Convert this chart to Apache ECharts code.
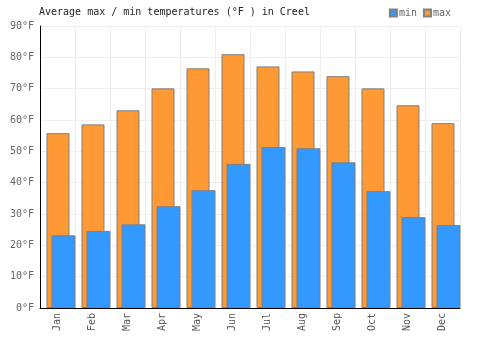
<!DOCTYPE html>
<html>
<head>
<meta charset="utf-8">
<script src="https://cdn.jsdelivr.net/npm/echarts@6/dist/echarts.min.js"></script>
<style>
  html, body { margin: 0; padding: 0; background: #fff; }
  #chart { width: 500px; height: 350px; }
</style>
</head>
<body>
<div id="chart"></div>
<script>
const months = ['Jan', 'Feb', 'Mar', 'Apr', 'May', 'Jun', 'Jul', 'Aug', 'Sep', 'Oct', 'Nov', 'Dec'];
const maxTemps = [55.8, 58.6, 63.1, 70.1, 76.5, 81.0, 77.1, 75.5, 74.0, 70.1, 64.7, 59.0];
const minTemps = [23.2, 24.6, 26.7, 32.5, 37.6, 46.0, 51.4, 51.0, 46.5, 37.3, 29.0, 26.5];

const mono = 'DejaVu Sans Mono';
const chart = echarts.init(document.getElementById('chart'));

const option = {
  animation: false,
  title: {
    text: 'Average max / min temperatures (°F ) in Creel',
    left: 34,
    top: 2,
    textStyle: { fontFamily: mono, fontSize: 10, fontWeight: 'normal', color: '#222' }
  },
  legend: {
    data: ['min', 'max'],
    right: 44,
    top: 3,
    itemWidth: 7,
    itemHeight: 7,
    itemGap: 6,
    icon: 'rect',
    textStyle: { fontFamily: mono, fontSize: 10, color: '#666', padding: [0, 0, 0, -3] }
  },
  grid: { left: 40, right: 40, top: 26, bottom: 42 },
  xAxis: {
    type: 'category',
    data: months,
    axisLine: { lineStyle: { color: '#000', width: 1 } },
    axisTick: { show: false },
    axisLabel: { rotate: 90, fontFamily: mono, fontSize: 10, color: '#555', margin: 5 },
    splitLine: { show: true, lineStyle: { color: '#eee' } }
  },
  yAxis: {
    type: 'value',
    min: 0,
    max: 90,
    interval: 10,
    axisLine: { show: true, lineStyle: { color: '#000', width: 1 } },
    axisTick: { show: false },
    axisLabel: { formatter: '{value}°F', fontFamily: mono, fontSize: 10, color: '#666', margin: 6 },
    splitLine: { lineStyle: { color: '#eee' } }
  },
  series: [
    {
      name: 'max',
      type: 'bar',
      data: maxTemps,
      barWidth: 23,
      barGap: '-78.26%',
      itemStyle: { color: '#FF9933', borderColor: '#808080', borderWidth: 1 }
    },
    {
      name: 'min',
      type: 'bar',
      data: minTemps,
      barWidth: 24,
      barGap: '-78.26%',
      itemStyle: { color: '#3399FF', borderColor: '#808080', borderWidth: 1 }
    },
    {
      // empty spacer so the overlapping pair sits like the original
      name: 'pad',
      type: 'bar',
      data: [],
      barWidth: 11.8,
      barGap: '-78.26%'
    }
  ]
};

chart.setOption(option);
</script>
</body>
</html>
